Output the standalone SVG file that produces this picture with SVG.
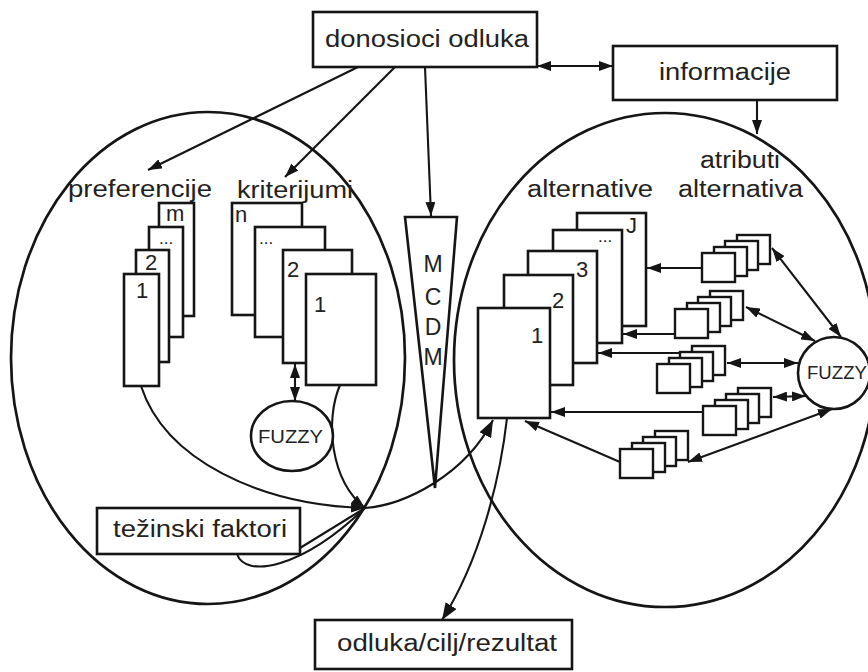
<svg xmlns="http://www.w3.org/2000/svg" width="868" height="672" viewBox="0 0 868 672">
<style>
.ln{fill:none;stroke:#151515;stroke-width:2.1}
.bx{fill:#fff;stroke:#151515;stroke-width:2.6}
.sb{fill:#fff;stroke:#151515;stroke-width:2.4}
.el{fill:none;stroke:#151515;stroke-width:2.7}
text{font-family:"Liberation Sans",Arial,sans-serif;fill:#222;font-size:23px}
.num{font-size:22px}
.dots{font-size:17px}
.fz{font-size:18px}
</style>
<defs>
<marker id="ah" viewBox="0 0 14 10" refX="14" refY="5" markerWidth="14" markerHeight="10" markerUnits="userSpaceOnUse" orient="auto-start-reverse"><path d="M0,0 L14,5 L0,10 z" fill="#151515"/></marker>
<marker id="ahb" viewBox="0 0 17 13" refX="17" refY="6.5" markerWidth="17" markerHeight="13" markerUnits="userSpaceOnUse" orient="auto-start-reverse"><path d="M0,0 L17,6.5 L0,13 z" fill="#151515"/></marker>
</defs>

<g id="left-region"><ellipse class="el" cx="208" cy="358" rx="197" ry="246"/></g>
<g id="right-region"><ellipse class="el" cx="665" cy="360" rx="211" ry="247"/></g>

<g id="connectors">
<path class="ln" d="M358,67 L148,170" marker-end="url(#ah)"/>
<path class="ln" d="M395,67 L285,177" marker-end="url(#ah)"/>
<path class="ln" d="M425,67 L431,216" marker-end="url(#ah)"/>
<path class="ln" d="M537,66 L613,66" marker-start="url(#ah)" marker-end="url(#ah)"/>
<path class="ln" d="M757,100 L757,134" marker-end="url(#ah)"/>
<path class="ln" d="M141,386 C165,460 260,505 365,508" marker-end="url(#ah)"/>
<path class="ln" d="M340,385 C325,420 330,480 365,508" marker-end="url(#ah)"/>
<path class="ln" d="M365,508 C405,505 465,475 493,420" marker-end="url(#ahb)" stroke-width="2.4"/>
<path class="ln" d="M300,548 L365,508"/>
<path class="ln" d="M237,554 C245,578 300,570 365,508"/>
<path class="ln" d="M295,364 L295,401" marker-start="url(#ah)" marker-end="url(#ah)"/>
<path class="ln" d="M507,418 C500,480 480,560 442,620" marker-end="url(#ahb)" stroke-width="2.4"/>
<path class="ln" d="M702,268 L647,268" marker-end="url(#ah)"/>
<path class="ln" d="M675,334 L623,334" marker-end="url(#ah)"/>
<path class="ln" d="M682,353 L598,353" marker-end="url(#ah)"/>
<path class="ln" d="M703,412 L551,412" marker-end="url(#ah)"/>
<path class="ln" d="M620,462 L525,421" marker-end="url(#ah)"/>
<path class="ln" d="M772,248 L841,337" marker-start="url(#ah)" marker-end="url(#ah)"/>
<path class="ln" d="M746,307 L815,341" marker-start="url(#ah)" marker-end="url(#ah)"/>
<path class="ln" d="M727,363 L798,363" marker-start="url(#ah)" marker-end="url(#ah)"/>
<path class="ln" d="M773,397 L806,396" marker-start="url(#ah)" marker-end="url(#ah)"/>
<path class="ln" d="M688,462 L832,409" marker-start="url(#ah)" marker-end="url(#ah)"/>
</g>

<g id="donosioci">
<rect class="bx" x="313" y="12" width="224" height="55"/>
<text x="325" y="47" textLength="204" lengthAdjust="spacingAndGlyphs">donosioci odluka</text>
</g>
<g id="informacije">
<rect class="bx" x="613" y="46" width="224" height="54"/>
<text x="659" y="80" textLength="132" lengthAdjust="spacingAndGlyphs">informacije</text>
</g>

<g id="preferencije">
<text x="68" y="197" textLength="144" lengthAdjust="spacingAndGlyphs">preferencije</text>
<rect class="bx" x="159" y="203" width="35" height="113"/>
<text class="num" x="166" y="221">m</text>
<rect class="bx" x="149" y="227" width="34" height="110"/>
<text class="dots" x="159" y="244">...</text>
<rect class="bx" x="136" y="250" width="33" height="112"/>
<text class="num" x="145" y="270">2</text>
<rect class="bx" x="124" y="274" width="35" height="112"/>
<text class="num" x="136" y="298">1</text>
</g>

<g id="kriterijumi">
<text x="237" y="198" textLength="116" lengthAdjust="spacingAndGlyphs">kriterijumi</text>
<rect class="bx" x="232" y="203" width="70" height="112"/>
<text class="num" x="235" y="222">n</text>
<rect class="bx" x="255" y="227" width="70" height="110"/>
<text class="dots" x="259" y="244">...</text>
<rect class="bx" x="283" y="250" width="69" height="113"/>
<text class="num" x="287" y="277">2</text>
<rect class="bx" x="306" y="274" width="70" height="111"/>
<text class="num" x="314" y="312">1</text>
</g>

<g id="fuzzy-left">
<ellipse class="bx" cx="292" cy="436" rx="41" ry="35"/>
<text class="fz" x="258" y="443" textLength="65" lengthAdjust="spacingAndGlyphs">FUZZY</text>
</g>

<g id="mcdm">
<polygon class="bx" points="405,217 457,217 435,488"/>
<text x="433" y="272" text-anchor="middle">M</text>
<text x="433" y="305" text-anchor="middle">C</text>
<text x="433" y="335" text-anchor="middle">D</text>
<text x="433" y="365" text-anchor="middle">M</text>
</g>

<g id="tezinski">
<rect class="bx" x="97" y="508" width="203" height="46"/>
<text x="113" y="537" textLength="174" lengthAdjust="spacingAndGlyphs">težinski faktori</text>
</g>

<g id="alternative">
<text x="527" y="197" textLength="126" lengthAdjust="spacingAndGlyphs">alternative</text>
<rect class="bx" x="577" y="213" width="69" height="113"/>
<text class="num" x="626" y="233" font-size="20">J</text>
<rect class="bx" x="553" y="230" width="69" height="113"/>
<text class="dots" x="598" y="242">...</text>
<rect class="bx" x="528" y="251" width="69" height="112"/>
<text class="num" x="576" y="277">3</text>
<rect class="bx" x="504" y="275" width="69" height="110"/>
<text class="num" x="552" y="308">2</text>
<rect class="bx" x="478" y="308" width="72" height="110"/>
<text class="num" x="531" y="343">1</text>
</g>

<g id="atributi">
<text x="700" y="168" textLength="80" lengthAdjust="spacingAndGlyphs">atributi</text>
<text x="678" y="197" textLength="125" lengthAdjust="spacingAndGlyphs">alternativa</text>
</g>

<g id="attr-a">
<rect class="sb" x="737" y="235" width="33" height="29"/>
<rect class="sb" x="725" y="241" width="33" height="29"/>
<rect class="sb" x="714" y="247" width="33" height="29"/>
<rect class="sb" x="702" y="253" width="33" height="29"/>
</g>
<g id="attr-b">
<rect class="sb" x="710" y="291" width="33" height="29"/>
<rect class="sb" x="698" y="297" width="33" height="29"/>
<rect class="sb" x="687" y="303" width="33" height="29"/>
<rect class="sb" x="675" y="309" width="33" height="29"/>
</g>
<g id="attr-c">
<rect class="sb" x="692" y="346" width="33" height="29"/>
<rect class="sb" x="680" y="352" width="33" height="29"/>
<rect class="sb" x="669" y="358" width="33" height="29"/>
<rect class="sb" x="657" y="364" width="33" height="29"/>
</g>
<g id="attr-d">
<rect class="sb" x="738" y="388" width="33" height="29"/>
<rect class="sb" x="726" y="394" width="33" height="29"/>
<rect class="sb" x="715" y="400" width="33" height="29"/>
<rect class="sb" x="703" y="406" width="33" height="29"/>
</g>
<g id="attr-e">
<rect class="sb" x="655" y="431" width="33" height="29"/>
<rect class="sb" x="643" y="437" width="33" height="29"/>
<rect class="sb" x="632" y="443" width="33" height="29"/>
<rect class="sb" x="620" y="449" width="33" height="29"/>
</g>

<g id="fuzzy-right">
<circle class="bx" cx="834" cy="373" r="36"/>
<text class="fz" x="807" y="379" textLength="60" lengthAdjust="spacingAndGlyphs">FUZZY</text>
</g>

<g id="odluka">
<rect class="bx" x="315" y="620" width="257" height="49"/>
<text x="337" y="651" textLength="220" lengthAdjust="spacingAndGlyphs">odluka/cilj/rezultat</text>
</g>
</svg>
